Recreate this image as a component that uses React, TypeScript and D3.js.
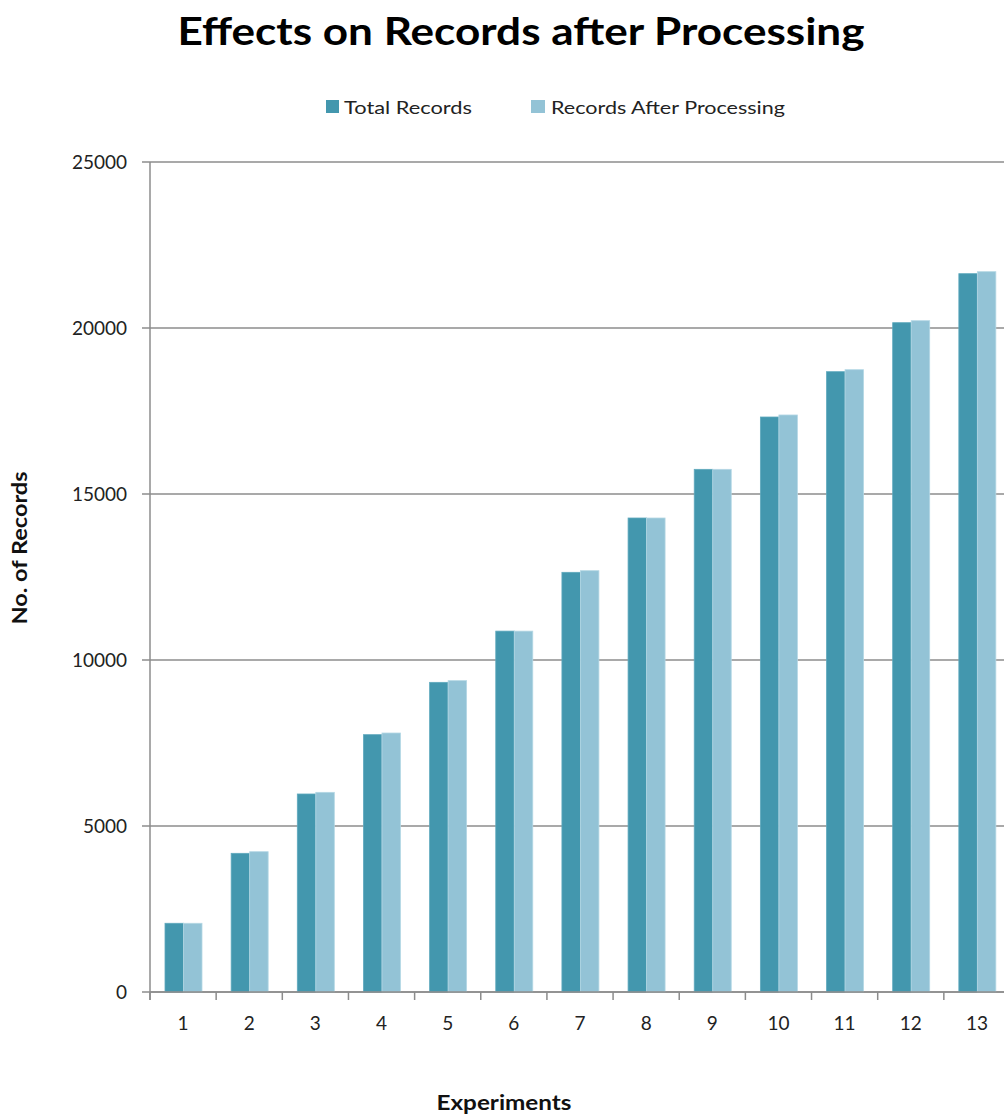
import React from "react";
import * as d3 from "d3";

const categories = ["1", "2", "3", "4", "5", "6", "7", "8", "9", "10", "11", "12", "13"];
const totalRecords = [2070, 4177, 5964, 7751, 9327, 10870, 12641, 14277, 15743, 17319, 18684, 20160, 21636];
const afterProcessing = [2070, 4226, 6014, 7801, 9378, 10870, 12690, 14277, 15743, 17380, 18744, 20220, 21696];
const yTicks = [0, 5000, 10000, 15000, 20000, 25000];
const seriesNames = ["Total Records", "Records After Processing"];
const seriesColors = ["#4397AE", "#93C3D6"];
const seriesStroke = ["#5FA9BD", "#B4D7E4"];

export default function App() {
  const W = 1004;
  const H = 1118;
  const x0 = d3.scaleBand<string>().domain(categories).range([150, 1010]).paddingInner(0).paddingOuter(0);
  const x1 = d3.scaleBand<string>().domain(["a", "b"]).range([15, 52]);
  const y = d3.scaleLinear().domain([0, 25000]).range([992, 162]);
  const font = "Lato, 'Open Sans', sans-serif";
  const gridColor = "#8C8C8C";
  const series = [totalRecords, afterProcessing];

  return (
    <svg width={W} height={H} style={{ position: "absolute", left: 0, top: 0 }} fontFamily={font}>
      <rect x={0} y={0} width={W} height={H} fill="#fff" />
      <text x={521} y={45} textAnchor="middle" fontSize={38} fontWeight="bold" fill="#000"
        textLength={687} lengthAdjust="spacingAndGlyphs">Effects on Records after Processing</text>

      {/* legend */}
      <rect x={326} y={100} width={13} height={13} fill={seriesColors[0]} />
      <text x={344} y={114} fontSize={18} fill="#222" textLength={128} lengthAdjust="spacingAndGlyphs">{seriesNames[0]}</text>
      <rect x={531} y={100} width={14} height={13} fill={seriesColors[1]} />
      <text x={551} y={114} fontSize={18} fill="#222" textLength={234} lengthAdjust="spacingAndGlyphs">{seriesNames[1]}</text>

      {/* gridlines */}
      {yTicks.map((t) => (
        <g key={t}>
          <line x1={142} x2={1010} y1={y(t)} y2={y(t)} stroke={gridColor} strokeWidth={1.5} />
          <text x={127} y={y(t) + 6.5} textAnchor="end" fontSize={19} fill="#222">{t}</text>
        </g>
      ))}
      {/* y axis */}
      <line x1={150} x2={150} y1={162} y2={1000} stroke={gridColor} strokeWidth={1.5} />

      {/* bars */}
      {categories.map((c, i) => (
        <g key={c} transform={`translate(${x0(c)},0)`}>
          {series.map((s, k) => (
            <rect key={k} x={x1(k === 0 ? "a" : "b")} y={y(s[i])} width={x1.bandwidth()} height={y(0) - y(s[i])}
              fill={seriesColors[k]} stroke={seriesStroke[k]} strokeWidth={0.8} />
          ))}
        </g>
      ))}

      {/* x axis ticks */}
      {categories.map((c) => (
        <g key={"t" + c}>
          <line x1={x0(c)!} x2={x0(c)!} y1={992} y2={1000} stroke={gridColor} strokeWidth={1.5} />
          <text x={x0(c)! + x0.bandwidth() / 2} y={1030} textAnchor="middle" fontSize={19} fill="#222">{c}</text>
        </g>
      ))}
      <line x1={150} x2={1010} y1={992} y2={992} stroke={gridColor} strokeWidth={1.5} />

      <text x={504} y={1110} textAnchor="middle" fontSize={20} fontWeight="bold" fill="#111"
        textLength={135} lengthAdjust="spacingAndGlyphs">Experiments</text>
      <text transform="translate(27,548) rotate(-90)" textAnchor="middle" fontSize={20} fontWeight="bold" fill="#111"
        textLength={153} lengthAdjust="spacingAndGlyphs">No. of Records</text>
    </svg>
  );
}
